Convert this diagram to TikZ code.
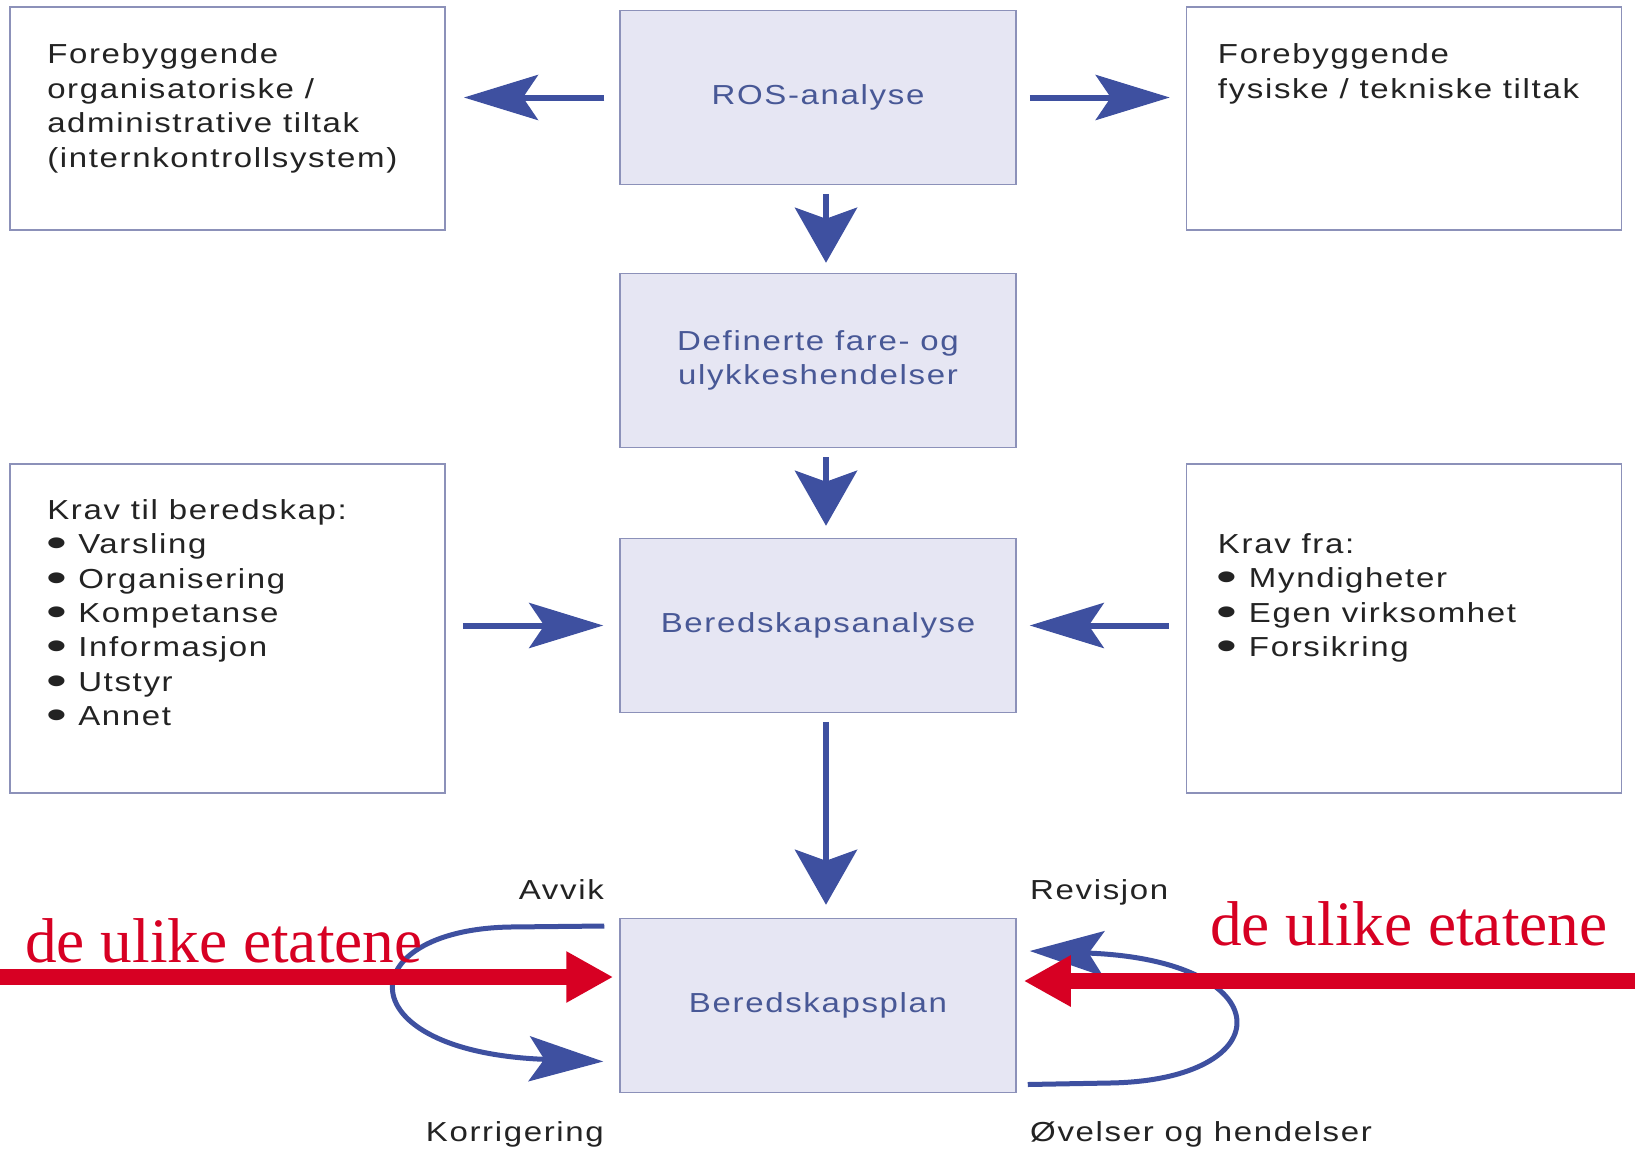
\documentclass[tikz,border=0pt]{standalone}
\usepackage{fontspec}
\setmainfont{Liberation Sans}[FakeStretch=1.2,LetterSpace=6]
\newfontfamily\rodfont{Liberation Serif}
\usetikzlibrary{arrows.meta,positioning}

\definecolor{pilblaa}{RGB}{62,80,160}
\definecolor{boksfyll}{RGB}{230,230,243}
\definecolor{boksramme}{RGB}{140,145,185}
\definecolor{bokstekst}{RGB}{72,88,150}
\definecolor{etatrod}{RGB}{215,0,35}
\definecolor{mork}{RGB}{35,35,35}

% kulepunkt
\newcommand\prikk{\makebox[31pt][l]{\kern-1pt\smash{\raisebox{-3pt}{\scalebox{1.8}[1.45]{\textbullet}}}}}

\tikzset{
  hovedboks/.style={draw=boksramme, fill=boksfyll, line width=1.5pt,
    minimum width=396pt, minimum height=174pt, inner sep=0pt,
    text=bokstekst, align=center},
  sideboks/.style={draw=boksramme, line width=1.5pt, minimum width=435pt, inner sep=0pt},
  sidetekst/.style={align=left, inner sep=0pt, text=mork},
  etikett/.style={inner sep=0pt, text=mork},
  hpil/.style={draw=pilblaa, line width=6pt, -{Stealth[length=74pt,width=45pt,inset=15pt]}},
  vpil/.style={draw=pilblaa, line width=6pt, -{Stealth[length=55pt,width=62pt,inset=11pt]}},
  loekke/.style={draw=pilblaa, line width=5pt, -{Stealth[length=74pt,width=45pt,inset=15pt]}},
  rodpil/.style={draw=etatrod, line width=16pt, -{Triangle[length=47pt,width=48pt]}},
  rodtekst/.style={anchor=base west, inner sep=0pt, text=etatrod,
    font=\rodfont\fontsize{63.3}{70}\selectfont},
}

\begin{document}
\begin{tikzpicture}[x=1pt, y=1pt, font=\fontsize{27.5}{34.4}\selectfont]
  \path[fill=white, use as bounding box] (0,0) rectangle (1635,-1148);

  % midtre kolonne
  \node[hovedboks] (ros) at (818,-97.5) {ROS-analyse};
  \node[hovedboks] (fare) at (818,-360.5) {Definerte fare- og\\ulykkeshendelser};
  \node[hovedboks] (analyse) at (818,-625.5) {Beredskapsanalyse};
  \node[hovedboks] (plan) at (818,-1005.5) {Beredskapsplan};

  % sidebokser
  \node[sideboks, minimum height=223pt] (orgtiltak) at (227.7,-118.6) {};
  \node[sideboks, minimum height=223pt] (fystiltak) at (1404,-118.6) {};
  \node[sideboks, minimum height=329pt] (kravtil) at (227.7,-628.5) {};
  \node[sideboks, minimum height=329pt] (kravfra) at (1404,-628.5) {};

  \node[sidetekst, below right=37.5pt and 37.6pt of orgtiltak.north west] (orgtekst)
    {Forebyggende\\organisatoriske /\\administrative tiltak\\(internkontrollsystem)};
  \node[sidetekst, below right=37.5pt and 32pt of fystiltak.north west] (fystekst)
    {Forebyggende\\fysiske / tekniske tiltak};
  \node[sidetekst, below right=36pt and 37.6pt of kravtil.north west] (kravtiltekst)
    {Krav til beredskap:\\\prikk Varsling\\\prikk Organisering\\\prikk Kompetanse\\\prikk Informasjon\\\prikk Utstyr\\\prikk Annet};
  \node[sidetekst, below right=70pt and 32pt of kravfra.north west] (kravfratekst)
    {Krav fra:\\\prikk Myndigheter\\\prikk Egen virksomhet\\\prikk Forsikring};

  % piler
  \draw[hpil, shorten <=15pt, shorten >=18pt] (ros.west) -- (orgtiltak.east |- ros.west);
  \draw[hpil, shorten <=13pt, shorten >=16pt] (ros.east) -- (fystiltak.west |- ros.east);
  \draw[vpil, shorten <=8.5pt, shorten >=10pt] ([xshift=8pt]ros.south) -- ([xshift=8pt]fare.north);
  \draw[vpil, shorten <=9pt, shorten >=12pt] ([xshift=8pt]fare.south) -- ([xshift=8pt]analyse.north);
  \draw[hpil, shorten <=17pt, shorten >=16pt] (kravtil.east |- analyse.west) -- (analyse.west);
  \draw[hpil, shorten <=17pt, shorten >=13pt] (kravfra.west |- analyse.east) -- (analyse.east);
  \draw[vpil, shorten <=8.5pt, shorten >=13pt] ([xshift=8pt]analyse.south) -- ([xshift=8pt]plan.north);

  % sloyfer rundt planen
  \coordinate (avvikS) at ([shift={(-15,79.5)}]plan.west);
  \coordinate (korrT) at ([shift={(-16,-56)}]plan.west);
  \coordinate (ovelseS) at ([shift={(11,-79)}]plan.east);
  \coordinate (revT) at ([shift={(13,54.5)}]plan.east);
  \draw[loekke] (avvikS) -- (510,-927) .. controls (350,-930) and (345,-1052) .. (korrT);
  \draw[loekke] (ovelseS) -- (1110,-1083) .. controls (1283,-1080) and (1283,-960) .. (revT);

  \node[etikett, anchor=base east] (avvik) at (604,-899.5) {Avvik};
  \node[etikett, anchor=base east] (korr) at (604,-1141.5) {Korrigering};
  \node[etikett, anchor=base west] (rev) at (1030,-899.5) {Revisjon};
  \node[etikett, anchor=base west] (ovelse) at (1030,-1141.5) {Øvelser og hendelser};

  % de ulike etatene
  \coordinate (venstreS) at (0,-977);
  \coordinate (hoyreS) at (1635,-981);
  \draw[rodpil, shorten >=6pt] (venstreS) -- (plan.west |- venstreS);
  \draw[rodpil, shorten >=7pt] (hoyreS) -- (plan.east |- hoyreS);
  \node[rodtekst] (etatV) at (25,-962) {de ulike etatene};
  \node[rodtekst] (etatH) at (1210,-945) {de ulike etatene};
\end{tikzpicture}
\end{document}
